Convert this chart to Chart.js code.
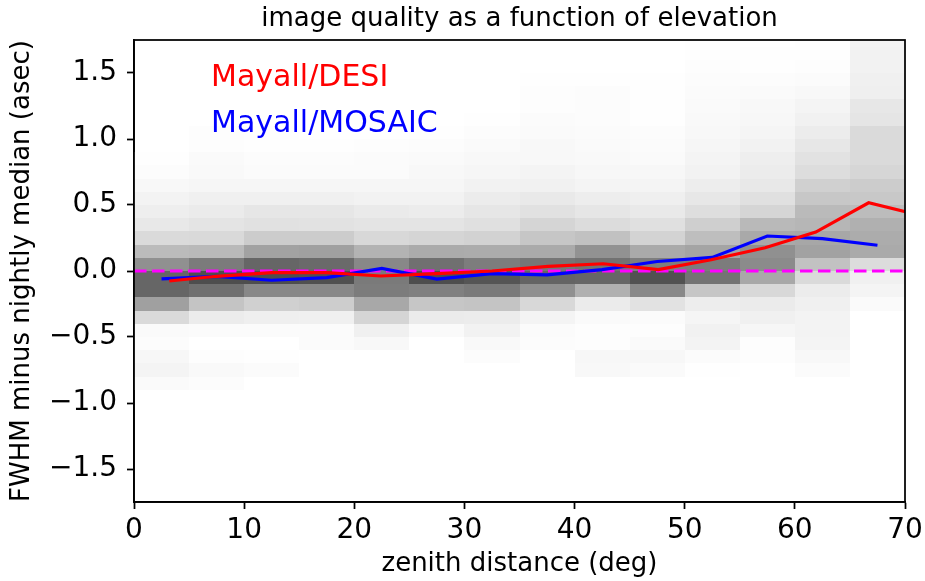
<!DOCTYPE html>
<html>
<head>
<meta charset="utf-8">
<style>
html,body{margin:0;padding:0;background:#fff;}
#wrap{width:925px;height:581px;}
</style>
<script src="https://cdn.jsdelivr.net/npm/chart.js@4.4.1/dist/chart.umd.min.js"></script>
</head>
<body>
<div id="wrap"><canvas id="c" width="925" height="581"></canvas></div>
<script>
// ---------------- data ----------------
const titleText = 'image quality as a function of elevation';
const xLabel = 'zenith distance (deg)';
const yLabel = 'FWHM minus nightly median (asec)';
const xTicks = [0, 10, 20, 30, 40, 50, 60, 70];
const yTicks = [-1.5, -1.0, -0.5, 0.0, 0.5, 1.0, 1.5];

// 2D histogram: zenith-distance bins (deg) and FWHM-offset bins (asec)
const zdBinEdges = [0, 5, 10, 15, 20, 25, 30, 35, 40, 45, 50, 55, 60, 65, 70];
const dfwhmBinStart = -0.9;
const dfwhmBinWidth = 0.1;
// darkness (0 = white, 255 = black) per zd bin, rows from -0.9 upward
const histShade = [
  [5,11,8,3,5,37,95,153,153,111,68,37,23,17,12,7,3,1,0,0,0,0,0,0,0,0,0],
  [3,6,2,0,4,19,59,143,177,132,70,38,27,20,15,9,6,5,2,2,0,0,0,0,0,0,0],
  [0,4,1,0,4,16,47,119,177,153,93,51,30,25,15,9,4,3,1,1,0,0,0,0,0,0,0],
  [0,0,0,4,4,15,50,119,175,149,95,51,29,25,15,9,4,3,1,0,0,0,0,0,0,0,0],
  [0,0,0,7,15,42,87,131,133,119,76,39,27,21,13,9,4,4,2,0,0,0,0,0,0,0,0],
  [0,0,0,0,5,20,57,127,177,143,84,42,27,19,13,9,7,5,3,1,0,0,0,0,0,0,0],
  [0,0,3,6,13,19,59,133,170,130,83,45,31,25,19,13,9,7,5,3,1,0,0,0,0,0,0],
  [0,0,0,3,4,11,39,111,155,137,85,57,42,30,22,14,11,7,7,5,4,2,2,1,0,0,0],
  [0,7,8,2,2,5,20,79,153,141,109,62,35,25,18,11,8,6,5,4,3,3,3,1,0,0,0],
  [0,5,8,5,2,4,29,119,174,129,85,44,31,22,16,11,8,5,4,3,1,1,1,1,0,0,0],
  [0,1,4,12,14,10,18,57,140,131,91,65,48,33,24,18,13,11,9,7,6,5,4,3,2,1,1],
  [0,0,2,2,9,15,20,39,87,116,111,86,70,42,31,23,19,17,13,10,8,7,5,3,1,1,0],
  [0,4,7,11,12,12,15,19,37,61,93,88,73,69,56,47,34,29,24,19,14,11,7,4,2,1,1],
  [0,0,0,0,0,0,5,11,15,35,85,83,79,67,55,51,41,37,37,37,26,24,16,15,13,13,12]
];

// binned medians
const desiZd  = [3.2, 7.5, 12.5, 17.5, 22.4, 27.5, 32.5, 37.6, 42.6, 47.6, 52.4, 57.3, 61.9, 66.7, 71.5];
const desiMed = [-0.076, -0.04, -0.012, -0.012, -0.038, -0.02, 0.0, 0.035, 0.055, 0.01, 0.085, 0.176, 0.295, 0.517, 0.42];
const mosaicZd  = [2.5, 7.5, 12.5, 17.5, 22.5, 27.5, 32.5, 37.5, 42.5, 47.5, 52.5, 57.5, 62.5, 67.5];
const mosaicMed = [-0.06, -0.04, -0.07, -0.05, 0.02, -0.062, -0.02, -0.03, 0.01, 0.072, 0.103, 0.265, 0.245, 0.195];
const zeroLineX = [0, 70];
const zeroLineY = [0, 0];

const labelDesi = {text: 'Mayall/DESI', x: 7, y: 1.4, color: '#ff0000'};
const labelMosaic = {text: 'Mayall/MOSAIC', x: 7, y: 1.05, color: '#0000ff'};

// ---------------- chart ----------------
const FONT = '"DejaVu Sans", "Liberation Sans", sans-serif';
Chart.defaults.font.family = FONT;
Chart.defaults.color = '#000';

const pts = (xs, ys) => xs.map((v, i) => ({x: v, y: ys[i]}));
const fmtY = v => (v < 0 ? '\u2212' : '') + Math.abs(v).toFixed(1);

const heatmapPlugin = {
  id: 'heatmap',
  beforeDatasetsDraw(chart) {
    const {ctx, chartArea: a, scales: {x, y}} = chart;
    ctx.save();
    ctx.beginPath();
    ctx.rect(a.left, a.top, a.right - a.left, a.bottom - a.top);
    ctx.clip();
    histShade.forEach((col, i) => {
      const xl = Math.round(x.getPixelForValue(zdBinEdges[i]));
      const xr = Math.round(x.getPixelForValue(zdBinEdges[i + 1]));
      col.forEach((d, j) => {
        if (!d) return;
        const lo = dfwhmBinStart + j * dfwhmBinWidth;
        const yb = Math.round(y.getPixelForValue(lo));
        const yt = Math.round(y.getPixelForValue(lo + dfwhmBinWidth));
        const g = 255 - d;
        ctx.fillStyle = 'rgb(' + g + ',' + g + ',' + g + ')';
        ctx.fillRect(xl, yt, xr - xl, yb - yt);
      });
    });
    ctx.restore();
  },
  afterDatasetsDraw(chart) {
    const {ctx, chartArea: a, scales: {x, y}} = chart;
    ctx.save();
    ctx.font = '30px ' + FONT;
    ctx.textAlign = 'left';
    ctx.textBaseline = 'alphabetic';
    [labelDesi, labelMosaic].forEach(l => {
      ctx.fillStyle = l.color;
      ctx.fillText(l.text, x.getPixelForValue(l.x), y.getPixelForValue(l.y));
    });
    ctx.strokeStyle = '#000';
    ctx.lineWidth = 1.75;
    ctx.strokeRect(a.left, a.top, a.right - a.left, a.bottom - a.top);
    ctx.fillStyle = '#000';
    ctx.font = '26px ' + FONT;
    ctx.textAlign = 'center';
    ctx.fillText(titleText, (a.left + a.right) / 2, 26);
    ctx.restore();
  }
};

new Chart(document.getElementById('c'), {
  type: 'scatter',
  data: {
    datasets: [
      {label: 'Mayall/DESI', data: pts(desiZd, desiMed), showLine: true, borderColor: '#ff0000',
       borderWidth: 3.2, pointRadius: 0, tension: 0, clip: 0},
      {label: 'Mayall/MOSAIC', data: pts(mosaicZd, mosaicMed), showLine: true, borderColor: '#0000ff',
       borderWidth: 3.2, pointRadius: 0, tension: 0, clip: 0},
      {label: 'zero', data: pts(zeroLineX, zeroLineY), showLine: true, borderColor: '#ff00ff',
       borderWidth: 3.2, borderDash: [12.5, 5.5], pointRadius: 0, clip: 0}
    ]
  },
  options: {
    responsive: false,
    animation: false,
    devicePixelRatio: 1,
    events: [],
    layout: {padding: {left: 0, right: 20, top: 40, bottom: 0}},
    plugins: {legend: {display: false}, tooltip: {enabled: false}, title: {display: false}},
    scales: {
      x: {
        type: 'linear', min: 0, max: 70,
        afterBuildTicks: s => { s.ticks = xTicks.map(v => ({value: v})); },
        afterFit: s => { s.height = 79; s.paddingLeft = 0; s.paddingRight = 0; },
        ticks: {font: {size: 28}, color: '#000', padding: 5, maxRotation: 0, autoSkip: false,
                callback: v => String(v)},
        grid: {display: true, drawOnChartArea: false, drawTicks: true, tickLength: 7,
               tickColor: '#000', tickWidth: 1.75},
        border: {display: true, color: '#000', width: 1.75},
        title: {display: true, text: xLabel, font: {size: 26}, color: '#000', padding: {top: 0, bottom: 1}}
      },
      y: {
        type: 'linear', min: -1.75, max: 1.75,
        afterBuildTicks: s => { s.ticks = yTicks.map(v => ({value: v})); },
        afterFit: s => { s.width = 134; s.paddingTop = 0; s.paddingBottom = 0; },
        ticks: {font: {size: 28}, color: '#000', padding: 10, autoSkip: false, callback: fmtY},
        grid: {display: true, drawOnChartArea: false, drawTicks: true, tickLength: 7,
               tickColor: '#000', tickWidth: 1.75},
        border: {display: true, color: '#000', width: 1.75},
        title: {display: true, text: yLabel, font: {size: 26}, color: '#000', padding: {top: 7, bottom: 0}}
      }
    }
  },
  plugins: [heatmapPlugin]
});
</script>
</body>
</html>
